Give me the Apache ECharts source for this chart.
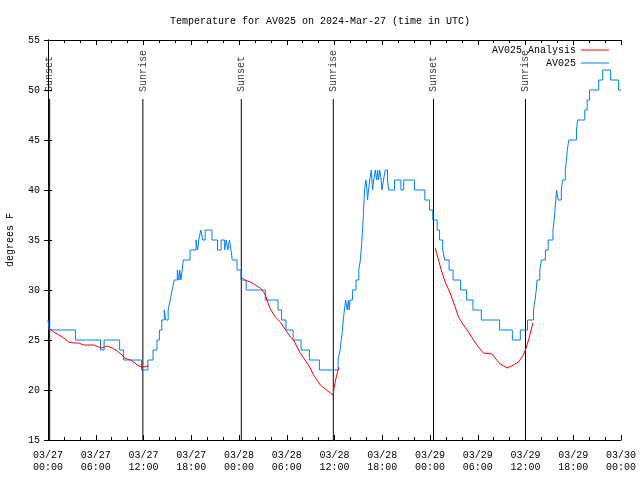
<!DOCTYPE html>
<html><head><meta charset="utf-8">
<script src="https://cdn.jsdelivr.net/npm/echarts@6/dist/echarts.min.js"></script>
<style>html,body{margin:0;padding:0;background:#fff}#c{width:640px;height:480px}</style>
</head><body><div id="c"></div>
<script>
const FONT = '"Liberation Mono","DejaVu Sans Mono",monospace';
const titleText = 'Temperature for AV025 on 2024-Mar-27 (time in UTC)';
const xTickLabels = ['03/27\n00:00','03/27\n06:00','03/27\n12:00','03/27\n18:00',
  '03/28\n00:00','03/28\n06:00','03/28\n12:00','03/28\n18:00',
  '03/29\n00:00','03/29\n06:00','03/29\n12:00','03/29\n18:00','03/30\n00:00'];
// hours since 03/27 00:00 UTC
const obsHours = [0.0,0.15,3.45,6.6,7.05,9.0,9.5,11.75,12.55,13.2,13.7,14.0,14.3,14.6,14.8,15.1,15.35,15.6,15.85,16.25,16.45,16.55,16.7,16.85,17.0,17.85,
  18.6,18.8,18.95,19.2,19.45,19.75,20.6,21.3,21.75,22.2,22.4,22.6,22.8,23.0,23.15,23.75,24.25,24.9,
  27.3,28.9,29.35,29.9,30.8,31.8,32.85,34.1,36.45,36.7,36.85,37.0,37.1,37.25,37.4,37.6,37.75,37.85,37.95,38.25,38.7,39.05,39.25,39.35,39.45,39.52,39.6,39.65,39.72,39.77,
  39.95,40.08,40.15,40.28,40.43,40.62,40.78,40.93,41.12,41.31,41.41,41.53,41.68,41.87,41.96,42.16,42.37,42.66,42.81,43.54,44.34,44.70,46.05,
  47.35,47.95,48.35,48.9,49.2,49.6,49.85,50.4,50.9,51.85,52.6,53.4,54.45,56.75,58.35,59.35,60.25,61.0,61.2,61.35,61.45,61.8,62.0,62.5,62.85,
  63.45,63.6,63.7,63.8,63.9,64.1,64.5,64.65,65.0,65.15,65.25,65.45,66.4,66.55,67.45,67.75,68.05,69.2,69.7,70.7,71.7,72.0];
const obsTemps = [27,26,25,24,25,24,23,22,23,24,25,26,27,28,27,28,29,30,31,32,31,32,31,32,33,34,
  35,34,35,36,35,36,35,34,35,34,35,34,35,34,33,32,31,30,
  29,28,27,26,25,24,23,22,23,24,25,26,27,28,29,28,29,28,29,30,31,32,33,34,35,36,37,38,39,40,
  41,40,39,40,41,42,40,41,42,41,42,41,42,41,40,41,42,41,40,41,40,41,40,
  39,38,37,36,35,34,33,32,31,30,29,28,27,26,25,26,27,28,29,30,31,32,33,34,35,
  36,37,38,39,40,39,40,41,42,43,44,45,46,47,48,49,50,51,52,51,50,50];
const anaHours = [0.10,0.73,1.36,1.98,2.61,3.24,3.87,4.49,5.75,6.38,6.72,7.43,8.06,8.69,9.32,9.60,10.36,10.77,11.2,11.7,12.03,12.66,
  18.0,
  24.29,24.71,25.42,26.05,26.68,27.09,27.31,27.6,27.94,28.56,29.19,29.6,30.03,30.45,30.86,31.29,31.7,32.12,32.54,32.96,33.37,33.8,34.21,34.84,35.47,35.81,35.97,36.22,36.56,
  42.0,
  48.65,49.07,49.49,49.91,50.53,51.16,51.58,52.2,52.83,53.46,54.09,54.71,55.77,56.18,56.81,57.73,58.48,59.11,59.74,60.08,60.49,60.92];
const anaTemps = [26.2,25.8,25.5,25.2,24.8,24.7,24.7,24.5,24.5,24.3,24.2,24.4,24.2,23.9,23.5,23.2,23.0,22.8,22.5,22.3,22.3,22.4,
  null,
  31.3,31.0,30.8,30.5,30.2,29.8,29.5,28.8,28.1,27.3,26.8,26.3,25.8,25.3,25.0,24.3,23.7,23.2,22.7,22.2,21.5,21.0,20.5,20.1,19.7,19.5,20.3,21.3,22.3,
  null,
  34.2,33.0,31.8,30.8,29.7,28.3,27.3,26.5,25.8,25.0,24.3,23.7,23.6,23.2,22.6,22.2,22.5,22.8,23.5,24.2,25.3,26.7];
const sunEvents = ['Sunset','Sunrise','Sunset','Sunrise','Sunset','Sunrise'];
const sunHours = [0.21,11.92,24.29,35.85,48.44,60.0];

const Y_MIN = 15, Y_MAX = 55, SUN_LINE_TOP = 49.1, SUN_LABEL_AT = 49.8;

const chart = echarts.init(document.getElementById('c'), null, {renderer:'canvas'});
const series = [];
sunHours.forEach((h) => {
  series.push({type:'line', data:[[h, Y_MIN],[h, SUN_LINE_TOP]], symbol:'none', silent:true,
    lineStyle:{color:'#000', width:1}, z:1});
});
series.push({type:'scatter', silent:true, symbolSize:0,
  data: sunHours.map((h,i)=>({name:sunEvents[i], value:[h, SUN_LABEL_AT]})),
  label:{show:true, formatter:'{b}', rotate:90, position:'inside', align:'left', verticalAlign:'middle',
    fontFamily:FONT, fontSize:10, color:'#000'}, z:3});
series.push({name:'AV025', type:'line', step:'end', symbol:'none',
  data: obsHours.map((h,i)=>[h, obsTemps[i]]),
  lineStyle:{color:'#0080ff', width:1}, itemStyle:{color:'#0080ff'}, z:2});
series.push({name:'AV025 Analysis', type:'line', symbol:'none',
  data: anaHours.map((h,i)=>[h, anaTemps[i] === null ? '-' : anaTemps[i]]),
  lineStyle:{color:'#ff0000', width:1}, itemStyle:{color:'#ff0000'}, z:2});

const axisCommonX = {type:'value', min:0, max:72, interval:6,
  axisLine:{show:true, lineStyle:{color:'#000', width:1}},
  axisTick:{show:true, inside:true, length:5, lineStyle:{color:'#000'}},
  minorTick:{show:true, splitNumber:3, length:3, lineStyle:{color:'#000'}},
  splitLine:{show:false}};
const axisCommonY = {type:'value', min:Y_MIN, max:Y_MAX, interval:5,
  axisLine:{show:true, lineStyle:{color:'#000', width:1}},
  axisTick:{show:true, inside:true, length:4, lineStyle:{color:'#000'}},
  splitLine:{show:false}};

chart.setOption({
  animation:false,
  backgroundColor:'#fff',
  title:{text:titleText, left:'center', top:11,
    textStyle:{fontFamily:FONT, fontSize:10, fontWeight:'normal', color:'#000'}},
  legend:{data:['AV025 Analysis','AV025'], orient:'vertical', right:26, top:39, align:'right',
    icon:'rect', itemWidth:28, itemHeight:1, itemGap:1,
    textStyle:{fontFamily:FONT, fontSize:10, color:'#000', lineHeight:12}},
  grid:{left:48, right:19, top:40, bottom:40, containLabel:false, outerBoundsMode:'none'},
  xAxis:[
    Object.assign({}, axisCommonX, {position:'bottom',
      axisLabel:{show:true, margin:9, fontFamily:FONT, fontSize:10, color:'#000', lineHeight:12,
        showMinLabel:true, showMaxLabel:true,
        formatter:(v)=>xTickLabels[Math.round(v/6)]}}),
    Object.assign({}, axisCommonX, {position:'top', axisLabel:{show:false}})
  ],
  yAxis:[
    Object.assign({}, axisCommonY, {position:'left', name:'degrees F', nameLocation:'middle', nameGap:33,
      nameTextStyle:{fontFamily:FONT, fontSize:10, color:'#000'},
      axisLabel:{show:true, margin:8, fontFamily:FONT, fontSize:10, color:'#000'}}),
    Object.assign({}, axisCommonY, {position:'right', axisLabel:{show:false}})
  ],
  series: series
});
</script></body></html>
